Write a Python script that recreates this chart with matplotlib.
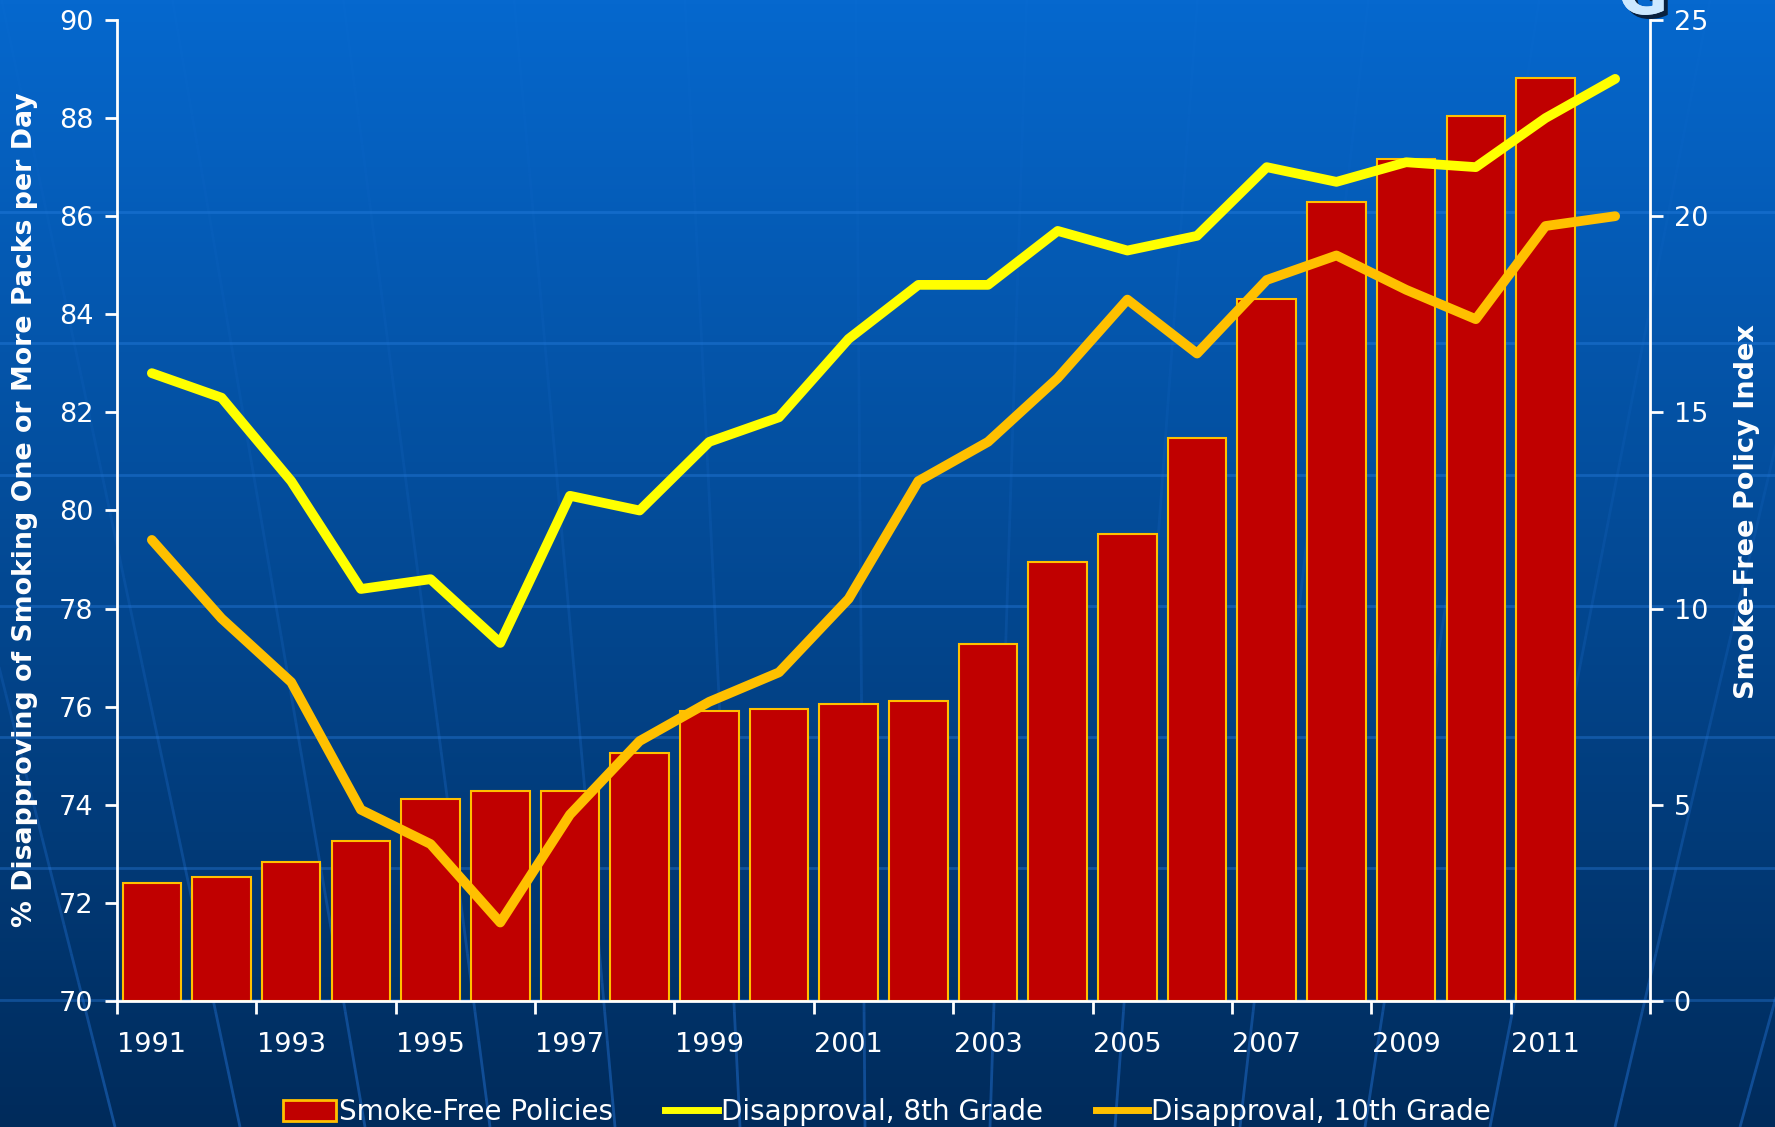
import numpy as np
import matplotlib
matplotlib.use("Agg")
from matplotlib import pyplot as plt
from matplotlib.patches import Patch
from matplotlib.lines import Line2D
from matplotlib.collections import LineCollection
import matplotlib.patheffects as pe

years = list(range(1991, 2013))
policy_index = [3.0, 3.15, 3.55, 4.07, 5.14, 5.34, 5.34, 6.32, 7.39, 7.45, 7.56,
                7.65, 9.09, 11.2, 11.89, 14.35, 17.9, 20.35, 21.45, 22.55, 23.53]
grade8 = [82.8, 82.3, 80.6, 78.4, 78.6, 77.3, 80.3, 80.0, 81.4, 81.9, 83.5,
          84.6, 84.6, 85.7, 85.3, 85.6, 87.0, 86.7, 87.1, 87.0, 88.0, 88.8]
grade10 = [79.4, 77.8, 76.5, 73.9, 73.2, 71.6, 73.8, 75.3, 76.1, 76.7, 78.2,
           80.6, 81.4, 82.7, 84.3, 83.2, 84.7, 85.2, 84.5, 83.9, 85.8, 86.0]

W, H = 1775, 1127
fig = plt.figure(figsize=(W / 100, H / 100), dpi=100)

# background gradient
bg = fig.add_axes([0, 0, 1, 1], zorder=-10)
top = np.array([0x06, 0x68, 0xCE]) / 255
bot = np.array([0x00, 0x2B, 0x5B]) / 255
t = np.linspace(0, 1, 256)[:, None]
grad = top[None, :] * (1 - t) + bot[None, :] * t
bg.imshow(grad[:, None, :].repeat(2, axis=1), aspect="auto", extent=[0, W, H, 0])
# faint decorative lines
for yy in [212, 343, 475, 606, 737, 868, 1000]:
    bg.plot([0, W], [yy, yy], color="#2f86ea", lw=2, alpha=0.35)
vx, vy = 890, 4200
ys = np.linspace(0, H, 40)
for bx in np.arange(-760, 2600, 125):
    # bx = where the line crosses the bottom edge
    k = (bx - vx) / (vy - H)
    xs = vx + k * (vy - ys)
    pts = np.column_stack([xs, ys]).reshape(-1, 1, 2)
    segs = np.concatenate([pts[:-1], pts[1:]], axis=1)
    alphas = 0.05 + 0.4 * (ys[:-1] / H) ** 2
    cols = [(0.16, 0.49, 0.90, a) for a in alphas]
    bg.add_collection(LineCollection(segs, colors=cols, linewidths=2))
bg.set_xlim(0, W)
bg.set_ylim(H, 0)
bg.axis("off")

ax = fig.add_axes([117 / W, 1 - 1001 / H, (1650 - 117) / W, (1001 - 20) / H])
ax.patch.set_alpha(0)
ax2 = ax.twinx()

x = np.arange(len(years))
ax2.bar(x[:len(policy_index)], policy_index, width=0.84, color="#C00000",
        edgecolor="#FFC000", linewidth=1.5, zorder=1)
ax2.set_ylim(0, 25)
ax2.set_yticks([0, 5, 10, 15, 20, 25])

ax.set_zorder(ax2.get_zorder() + 1)
ax.patch.set_visible(False)
ax.plot(x, grade8, color="#FFFF00", lw=7, solid_capstyle="round", solid_joinstyle="round")
ax.plot(x, grade10, color="#FFC000", lw=7, solid_capstyle="round", solid_joinstyle="round")
ax.set_ylim(70, 90)
ax.set_yticks(range(70, 91, 2))
ax.set_xlim(-0.5, len(years) - 0.5)

ax.set_xticks(np.arange(-0.5, len(years), 2))
ax.set_xticklabels([])
ax.set_xticks(x[::2], minor=True)
ax.set_xticklabels([str(y) for y in years[::2]], minor=True)
ax.tick_params(axis="x", which="minor", length=0, pad=22, labelsize=19.5, labelcolor="white")
ax.tick_params(axis="x", which="major", length=9, width=2, color="white")

for a in (ax, ax2):
    for s in a.spines.values():
        s.set_visible(False)
    a.tick_params(axis="y", length=9, width=2, color="white", labelcolor="white",
                  labelsize=19.5, pad=8)
ax.spines["left"].set_visible(True)
ax.spines["left"].set_color("white")
ax.spines["left"].set_linewidth(2)
ax.spines["bottom"].set_visible(True)
ax.spines["bottom"].set_color("white")
ax.spines["bottom"].set_linewidth(2)
ax2.spines["right"].set_visible(True)
ax2.spines["right"].set_color("white")
ax2.spines["right"].set_linewidth(2)

fig.text(25 / W, 1 - 510 / H, "% Disapproving of Smoking One or More Packs per Day",
         rotation=90, ha="center", va="center", color="white", fontsize=19.3, fontweight="bold")
fig.text(1747 / W, 1 - 512 / H, "Smoke-Free Policy Index",
         rotation=90, ha="center", va="center", color="white", fontsize=19.5, fontweight="bold")

# cut-off title letter at the top right (as in the original slide)
fig.text(1643 / W, 1 - 14 / H, "G", ha="center", va="baseline", color="#cce8ff",
         fontsize=44, fontweight="bold",
         path_effects=[pe.withSimplePatchShadow(offset=(3, -3), shadow_rgbFace="#0a1a30", alpha=0.9),
                       pe.Normal()])

handles = [Patch(facecolor="#C00000", edgecolor="#FFC000", linewidth=2),
           Line2D([], [], color="#FFFF00", lw=5),
           Line2D([], [], color="#FFC000", lw=5)]
labels = ["Smoke-Free Policies", "Disapproval, 8th Grade", "Disapproval, 10th Grade"]
fig.legend(handles, labels, loc="center", bbox_to_anchor=(887 / W, 1 - 1112 / H), ncol=3,
           frameon=False, fontsize=20, labelcolor="white", handlelength=1.9,
           handletextpad=0.1, columnspacing=1.9, handleheight=0.8)

fig.savefig("out.png", dpi=100)
